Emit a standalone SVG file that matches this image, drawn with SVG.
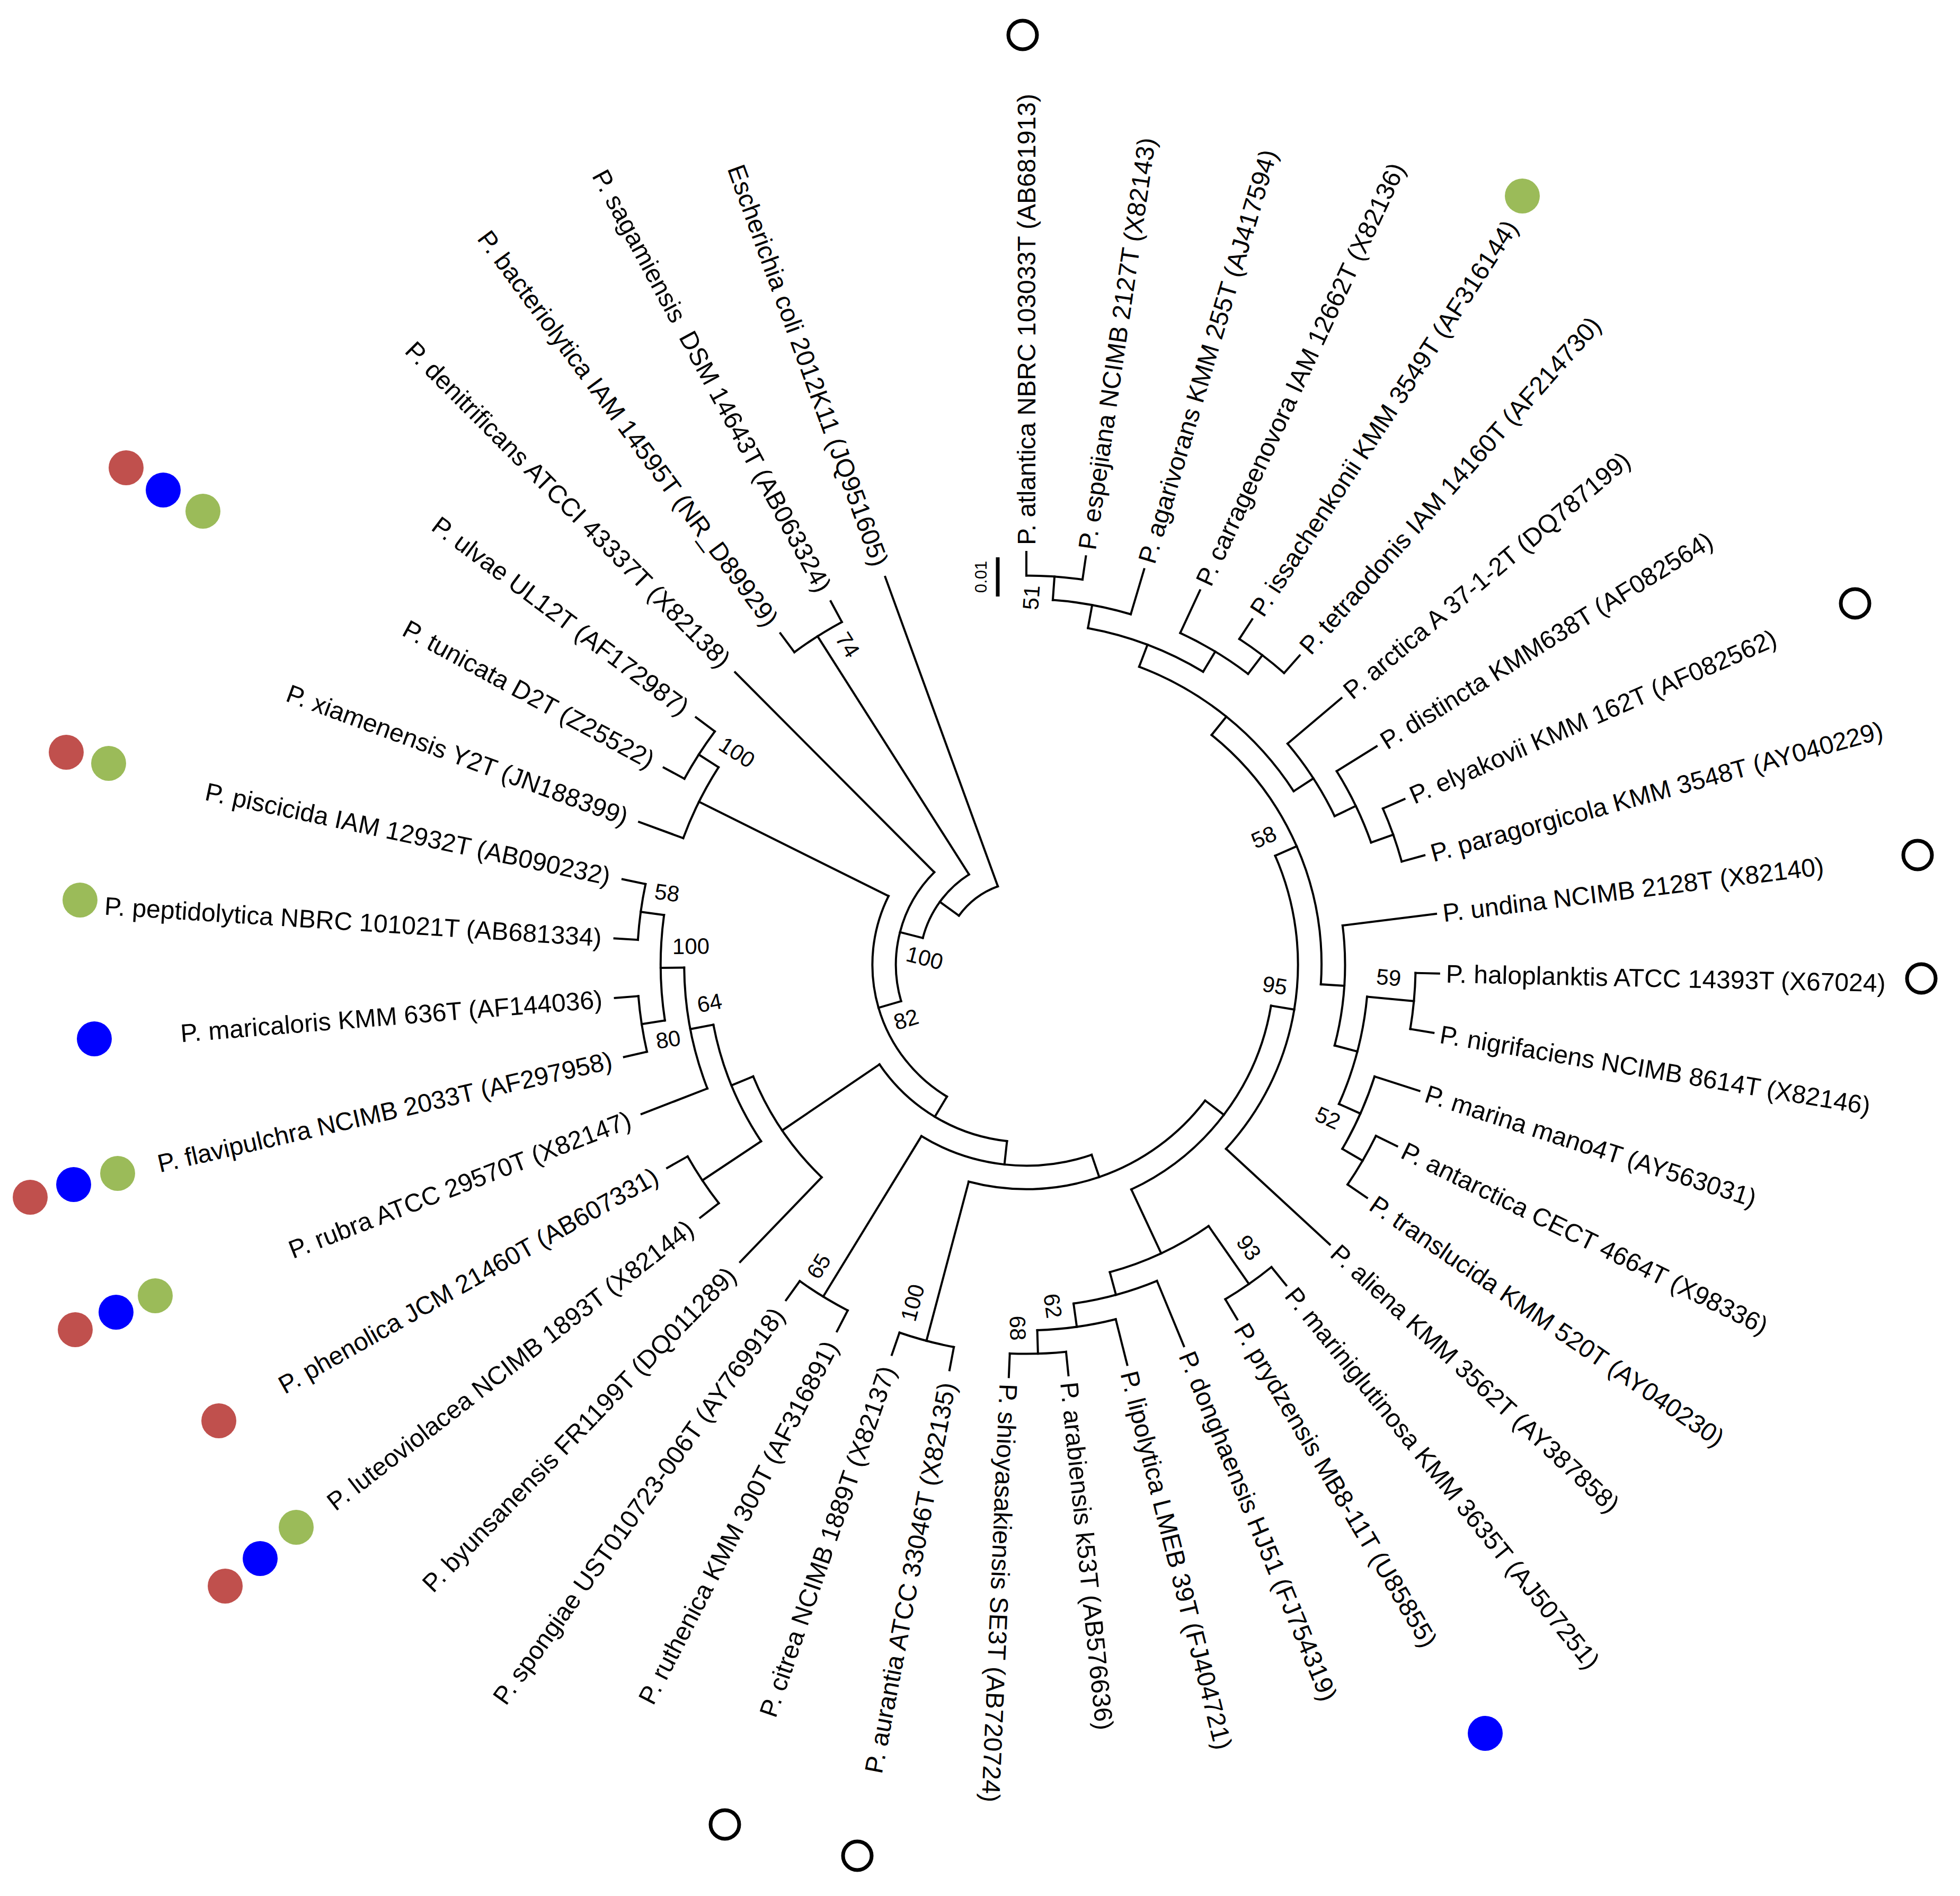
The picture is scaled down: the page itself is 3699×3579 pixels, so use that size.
<svg xmlns="http://www.w3.org/2000/svg" width="3699" height="3579" viewBox="0 0 3699 3579">
<style>
.t{font-family:"Liberation Sans",Arial,sans-serif;font-size:48px;fill:#000}
.e{text-anchor:end}
.b{font-family:"Liberation Sans",Arial,sans-serif;font-size:42px;fill:#000;text-anchor:middle}
.tree{fill:none;stroke:#000;stroke-width:4;stroke-linecap:square}
.r{fill:#C0504D}.bl{fill:#0000FF}.g{fill:#9BBB59}
.o{fill:#fff;stroke:#000;stroke-width:7}
</style>
<rect width="3699" height="3579" fill="#fff"/>
<g id="connectors" class="tree" transform="translate(1937,1821)">
<circle r="157.4" stroke-dasharray="93.40 9999" transform="rotate(216)"/>
<circle r="201.8" stroke-dasharray="151.88 9999" transform="rotate(194.438)"/>
<circle r="246.2" stroke-dasharray="263.70 9999" transform="rotate(163.753)"/>
<circle r="290.6" stroke-dasharray="433.25 9999" transform="rotate(121.043)"/>
<circle r="335" stroke-dasharray="289.78 9999" transform="rotate(96.262)"/>
<circle r="379.4" stroke-dasharray="333.76 9999" transform="rotate(71.06)"/>
<circle r="423.8" stroke-dasharray="500.29 9999" transform="rotate(37.241)"/>
<circle r="468.2" stroke-dasharray="453.18 9999" transform="rotate(9.512)"/>
<circle r="512.6" stroke-dasharray="593.53 9999" transform="rotate(-23.659)"/>
<circle r="557" stroke-dasharray="534.09 9999" transform="rotate(-51.128)"/>
<circle r="601.4" stroke-dasharray="380.81 9999" transform="rotate(-69.268)"/>
<circle r="645.8" stroke-dasharray="233.68 9999" transform="rotate(-79.634)"/>
<circle r="690.2" stroke-dasharray="149.84 9999" transform="rotate(-85.854)"/>
<circle r="734.6" stroke-dasharray="106.33 9999" transform="rotate(-90)"/>
<circle r="690.2" stroke-dasharray="149.84 9999" transform="rotate(-65.122)"/>
<circle r="734.6" stroke-dasharray="106.32 9999" transform="rotate(-56.829)"/>
<circle r="645.8" stroke-dasharray="163.57 9999" transform="rotate(-40.244)"/>
<circle r="690.2" stroke-dasharray="149.84 9999" transform="rotate(-31.951)"/>
<circle r="734.6" stroke-dasharray="106.33 9999" transform="rotate(-23.659)"/>
<circle r="601.4" stroke-dasharray="228.48 9999" transform="rotate(-7.073)"/>
<circle r="645.8" stroke-dasharray="210.30 9999" transform="rotate(5.366)"/>
<circle r="734.6" stroke-dasharray="106.32 9999" transform="rotate(1.22)"/>
<circle r="690.2" stroke-dasharray="149.84 9999" transform="rotate(17.805)"/>
<circle r="734.6" stroke-dasharray="106.32 9999" transform="rotate(26.098)"/>
<circle r="601.4" stroke-dasharray="206.73 9999" transform="rotate(55.122)"/>
<circle r="734.6" stroke-dasharray="106.32 9999" transform="rotate(50.976)"/>
<circle r="645.8" stroke-dasharray="163.57 9999" transform="rotate(67.561)"/>
<circle r="690.2" stroke-dasharray="149.84 9999" transform="rotate(75.854)"/>
<circle r="734.6" stroke-dasharray="106.33 9999" transform="rotate(84.146)"/>
<circle r="734.6" stroke-dasharray="106.32 9999" transform="rotate(100.732)"/>
<circle r="734.6" stroke-dasharray="106.33 9999" transform="rotate(117.317)"/>
<circle r="557" stroke-dasharray="231.78 9999" transform="rotate(133.902)"/>
<circle r="601.4" stroke-dasharray="239.37 9999" transform="rotate(146.341)"/>
<circle r="734.6" stroke-dasharray="106.33 9999" transform="rotate(142.195)"/>
<circle r="645.8" stroke-dasharray="233.68 9999" transform="rotate(158.78)"/>
<circle r="690.2" stroke-dasharray="199.79 9999" transform="rotate(171.22)"/>
<circle r="734.6" stroke-dasharray="106.33 9999" transform="rotate(167.073)"/>
<circle r="734.6" stroke-dasharray="106.32 9999" transform="rotate(183.659)"/>
<circle r="690.2" stroke-dasharray="149.84 9999" transform="rotate(200.244)"/>
<circle r="734.6" stroke-dasharray="106.32 9999" transform="rotate(208.537)"/>
<circle r="734.6" stroke-dasharray="106.32 9999" transform="rotate(233.415)"/>
<path d="M157.4 0H201.8" transform="rotate(216)"/>
<path d="M201.8 0H246.2" transform="rotate(194.438)"/>
<path d="M201.8 0H734.6" transform="rotate(237.561)"/>
<path d="M246.2 0H290.6" transform="rotate(163.753)"/>
<path d="M290.6 0H690.2" transform="rotate(206.463)"/>
<path d="M290.6 0H335" transform="rotate(121.043)"/>
<path d="M335 0H379.4" transform="rotate(96.262)"/>
<path d="M335 0H557" transform="rotate(145.823)"/>
<path d="M379.4 0H423.8" transform="rotate(71.06)"/>
<path d="M379.4 0H734.6" transform="rotate(121.463)"/>
<path d="M423.8 0H468.2" transform="rotate(37.241)"/>
<path d="M423.8 0H734.6" transform="rotate(104.878)"/>
<path d="M468.2 0H512.6" transform="rotate(9.512)"/>
<path d="M468.2 0H601.4" transform="rotate(64.97)"/>
<path d="M512.6 0H557" transform="rotate(-23.659)"/>
<path d="M557 0H601.4" transform="rotate(-51.128)"/>
<path d="M557 0H601.4" transform="rotate(3.811)"/>
<path d="M601.4 0H645.8" transform="rotate(-69.268)"/>
<path d="M601.4 0H645.8" transform="rotate(-32.988)"/>
<path d="M645.8 0H690.2" transform="rotate(-79.634)"/>
<path d="M645.8 0H690.2" transform="rotate(-58.902)"/>
<path d="M690.2 0H734.6" transform="rotate(-85.854)"/>
<path d="M690.2 0H734.6" transform="rotate(-52.683)"/>
<path d="M645.8 0H690.2" transform="rotate(-25.732)"/>
<path d="M690.2 0H734.6" transform="rotate(-19.512)"/>
<path d="M601.4 0H645.8" transform="rotate(14.695)"/>
<path d="M645.8 0H734.6" transform="rotate(5.366)"/>
<path d="M645.8 0H690.2" transform="rotate(24.024)"/>
<path d="M690.2 0H734.6" transform="rotate(30.244)"/>
<path d="M601.4 0H734.6" transform="rotate(55.122)"/>
<path d="M601.4 0H645.8" transform="rotate(74.817)"/>
<path d="M645.8 0H690.2" transform="rotate(82.073)"/>
<path d="M690.2 0H734.6" transform="rotate(88.293)"/>
<path d="M557 0H601.4" transform="rotate(157.744)"/>
<path d="M601.4 0H734.6" transform="rotate(146.341)"/>
<path d="M601.4 0H645.8" transform="rotate(169.146)"/>
<path d="M645.8 0H690.2" transform="rotate(179.512)"/>
<path d="M690.2 0H734.6" transform="rotate(171.22)"/>
<path d="M690.2 0H734.6" transform="rotate(187.805)"/>
<path d="M690.2 0H734.6" transform="rotate(212.683)"/>
<path d="M734.6 0H779" transform="rotate(-90)"/>
<path d="M734.6 0H779" transform="rotate(-81.707)"/>
<path d="M690.2 0H779" transform="rotate(-73.415)"/>
<path d="M690.2 0H779" transform="rotate(-65.122)"/>
<path d="M734.6 0H779" transform="rotate(-56.829)"/>
<path d="M734.6 0H779" transform="rotate(-48.537)"/>
<path d="M645.8 0H779" transform="rotate(-40.244)"/>
<path d="M690.2 0H779" transform="rotate(-31.951)"/>
<path d="M734.6 0H779" transform="rotate(-23.659)"/>
<path d="M734.6 0H779" transform="rotate(-15.366)"/>
<path d="M601.4 0H779" transform="rotate(-7.073)"/>
<path d="M734.6 0H779" transform="rotate(1.22)"/>
<path d="M734.6 0H779" transform="rotate(9.512)"/>
<path d="M690.2 0H779" transform="rotate(17.805)"/>
<path d="M734.6 0H779" transform="rotate(26.098)"/>
<path d="M734.6 0H779" transform="rotate(34.39)"/>
<path d="M512.6 0H779" transform="rotate(42.683)"/>
<path d="M734.6 0H779" transform="rotate(50.976)"/>
<path d="M734.6 0H779" transform="rotate(59.268)"/>
<path d="M645.8 0H779" transform="rotate(67.561)"/>
<path d="M690.2 0H779" transform="rotate(75.854)"/>
<path d="M734.6 0H779" transform="rotate(84.146)"/>
<path d="M734.6 0H779" transform="rotate(92.439)"/>
<path d="M734.6 0H779" transform="rotate(100.732)"/>
<path d="M734.6 0H779" transform="rotate(109.024)"/>
<path d="M734.6 0H779" transform="rotate(117.317)"/>
<path d="M734.6 0H779" transform="rotate(125.61)"/>
<path d="M557 0H779" transform="rotate(133.902)"/>
<path d="M734.6 0H779" transform="rotate(142.195)"/>
<path d="M734.6 0H779" transform="rotate(150.488)"/>
<path d="M645.8 0H779" transform="rotate(158.78)"/>
<path d="M734.6 0H779" transform="rotate(167.073)"/>
<path d="M734.6 0H779" transform="rotate(175.366)"/>
<path d="M734.6 0H779" transform="rotate(183.659)"/>
<path d="M734.6 0H779" transform="rotate(191.951)"/>
<path d="M690.2 0H779" transform="rotate(200.244)"/>
<path d="M734.6 0H779" transform="rotate(208.537)"/>
<path d="M734.6 0H779" transform="rotate(216.829)"/>
<path d="M246.2 0H779" transform="rotate(225.122)"/>
<path d="M734.6 0H779" transform="rotate(233.415)"/>
<path d="M734.6 0H779" transform="rotate(241.707)"/>
<path d="M157.4 0H779" transform="rotate(250)"/>
</g>
<g id="leaves">
<g id="n00" transform="translate(1937,1821) rotate(-90)"><text class="t" x="792" dy=".35em">P. atlantica NBRC 103033T (AB681913)</text></g>
<g id="n01" transform="translate(1937,1821) rotate(-81.707)"><text class="t" x="792" dy=".35em">P. espejiana NCIMB 2127T (X82143)</text></g>
<g id="n02" transform="translate(1937,1821) rotate(-73.415)"><text class="t" x="792" dy=".35em">P. agarivorans KMM 255T (AJ417594)</text></g>
<g id="n03" transform="translate(1937,1821) rotate(-65.122)"><text class="t" x="792" dy=".35em">P. carrageenovora IAM 12662T (X82136)</text></g>
<g id="n04" transform="translate(1937,1821) rotate(-56.829)"><text class="t" x="792" dy=".35em">P. issachenkonii KMM 3549T (AF316144)</text></g>
<g id="n05" transform="translate(1937,1821) rotate(-48.537)"><text class="t" x="792" dy=".35em">P. tetraodonis IAM 14160T (AF214730)</text></g>
<g id="n06" transform="translate(1937,1821) rotate(-40.244)"><text class="t" x="792" dy=".35em">P. arctica A 37-1-2T (DQ787199)</text></g>
<g id="n07" transform="translate(1937,1821) rotate(-31.951)"><text class="t" x="792" dy=".35em">P. distincta KMM638T (AF082564)</text></g>
<g id="n08" transform="translate(1937,1821) rotate(-23.659)"><text class="t" x="792" dy=".35em">P. elyakovii KMM 162T (AF082562)</text></g>
<g id="n09" transform="translate(1937,1821) rotate(-15.366)"><text class="t" x="792" dy=".35em">P. paragorgicola KMM 3548T (AY040229)</text></g>
<g id="n10" transform="translate(1937,1821) rotate(-7.073)"><text class="t" x="792" dy=".35em">P. undina NCIMB 2128T (X82140)</text></g>
<g id="n11" transform="translate(1937,1821) rotate(1.22)"><text class="t" x="792" dy=".35em">P. haloplanktis ATCC 14393T (X67024)</text></g>
<g id="n12" transform="translate(1937,1821) rotate(9.512)"><text class="t" x="792" dy=".35em">P. nigrifaciens NCIMB 8614T (X82146)</text></g>
<g id="n13" transform="translate(1937,1821) rotate(17.805)"><text class="t" x="792" dy=".35em">P. marina mano4T (AY563031)</text></g>
<g id="n14" transform="translate(1937,1821) rotate(26.098)"><text class="t" x="792" dy=".35em">P. antarctica CECT 4664T (X98336)</text></g>
<g id="n15" transform="translate(1937,1821) rotate(34.39)"><text class="t" x="792" dy=".35em">P. translucida KMM 520T (AY040230)</text></g>
<g id="n16" transform="translate(1937,1821) rotate(42.683)"><text class="t" x="792" dy=".35em">P. aliena KMM 3562T (AY387858)</text></g>
<g id="n17" transform="translate(1937,1821) rotate(50.976)"><text class="t" x="792" dy=".35em">P. mariniglutinosa KMM 3635T (AJ507251)</text></g>
<g id="n18" transform="translate(1937,1821) rotate(59.268)"><text class="t" x="792" dy=".35em">P. prydzensis MB8-11T (U85855)</text></g>
<g id="n19" transform="translate(1937,1821) rotate(67.561)"><text class="t" x="792" dy=".35em">P. donghaensis HJ51 (FJ754319)</text></g>
<g id="n20" transform="translate(1937,1821) rotate(75.854)"><text class="t" x="792" dy=".35em">P. lipolytica LMEB 39T (FJ404721)</text></g>
<g id="n21" transform="translate(1937,1821) rotate(84.146)"><text class="t" x="792" dy=".35em">P. arabiensis k53T (AB576636)</text></g>
<g id="n22" transform="translate(1937,1821) rotate(92.439)"><text class="t" x="792" dy=".35em">P. shioyasakiensis SE3T (AB720724)</text></g>
<g id="n23" transform="translate(1937,1821) rotate(-79.268)"><text class="t e" x="-803" dy=".35em">P. aurantia ATCC 33046T (X82135)</text></g>
<g id="n24" transform="translate(1937,1821) rotate(-70.976)"><text class="t e" x="-803" dy=".35em">P. citrea NCIMB 1889T (X82137)</text></g>
<g id="n25" transform="translate(1937,1821) rotate(-62.683)"><text class="t e" x="-803" dy=".35em">P. ruthenica KMM 300T (AF316891)</text></g>
<g id="n26" transform="translate(1937,1821) rotate(-54.39)"><text class="t e" x="-803" dy=".35em">P. spongiae UST010723-006T (AY769918)</text></g>
<g id="n27" transform="translate(1937,1821) rotate(-46.098)"><text class="t e" x="-803" dy=".35em">P. byunsanensis FR1199T (DQ011289)</text></g>
<g id="n28" transform="translate(1937,1821) rotate(-37.805)"><text class="t e" x="-803" dy=".35em">P. luteoviolacea NCIMB 1893T (X82144)</text></g>
<g id="n29" transform="translate(1937,1821) rotate(-29.512)"><text class="t e" x="-803" dy=".35em">P. phenolica JCM 21460T (AB607331)</text></g>
<g id="n30" transform="translate(1937,1821) rotate(-21.22)"><text class="t e" x="-803" dy=".35em">P. rubra ATCC 29570T (X82147)</text></g>
<g id="n31" transform="translate(1937,1821) rotate(-12.927)"><text class="t e" x="-803" dy=".35em">P. flavipulchra NCIMB 2033T (AF297958)</text></g>
<g id="n32" transform="translate(1937,1821) rotate(-4.634)"><text class="t e" x="-803" dy=".35em">P. maricaloris KMM 636T (AF144036)</text></g>
<g id="n33" transform="translate(1937,1821) rotate(3.659)"><text class="t e" x="-803" dy=".35em">P. peptidolytica NBRC 101021T (AB681334)</text></g>
<g id="n34" transform="translate(1937,1821) rotate(11.951)"><text class="t e" x="-803" dy=".35em">P. piscicida IAM 12932T (AB090232)</text></g>
<g id="n35" transform="translate(1937,1821) rotate(20.244)"><text class="t e" x="-803" dy=".35em">P. xiamenensis Y2T (JN188399)</text></g>
<g id="n36" transform="translate(1937,1821) rotate(28.537)"><text class="t e" x="-803" dy=".35em">P. tunicata D2T (Z25522)</text></g>
<g id="n37" transform="translate(1937,1821) rotate(36.829)"><text class="t e" x="-803" dy=".35em">P. ulvae UL12T (AF172987)</text></g>
<g id="n38" transform="translate(1937,1821) rotate(45.122)"><text class="t e" x="-803" dy=".35em">P. denitrificans ATCCI 43337T (X82138)</text></g>
<g id="n39" transform="translate(1937,1821) rotate(53.415)"><text class="t e" x="-803" dy=".35em">P. bacteriolytica IAM 14595T (NR_D89929)</text></g>
<g id="n40" transform="translate(1937,1821) rotate(61.707)"><text class="t e" x="-803" dy=".35em">P. sagamiensis&#160; DSM 14643T (AB063324)</text></g>
<g id="n41" transform="translate(1937,1821) rotate(70)"><text class="t e" x="-803" dy=".35em">Escherichia coli 2012K11 (JQ951605)</text></g>
</g>
<g id="bootstrap">
<text class="b" x="1946" y="1128" dy=".35em" transform="rotate(-85.9 1946 1128)">51</text>
<text class="b" x="1600" y="1217" dy=".35em" transform="rotate(57.56 1600 1217)">74</text>
<text class="b" x="1391" y="1420" dy=".35em" transform="rotate(32.68 1391 1420)">100</text>
<text class="b" x="1745" y="1808" dy=".35em" transform="rotate(14.44 1745 1808)">100</text>
<text class="b" x="1710" y="1924" dy=".35em" transform="rotate(-16.25 1710 1924)">82</text>
<text class="b" x="2385" y="1580" dy=".35em" transform="rotate(-23.66 2385 1580)">58</text>
<text class="b" x="2406" y="1860" dy=".35em" transform="rotate(9.51 2406 1860)">95</text>
<text class="b" x="2621" y="1845" dy=".35em" transform="rotate(5.37 2621 1845)">59</text>
<text class="b" x="2506" y="2110" dy=".35em" transform="rotate(24.02 2506 2110)">52</text>
<text class="b" x="2357" y="2355" dy=".35em" transform="rotate(55.12 2357 2355)">93</text>
<text class="b" x="1987" y="2465" dy=".35em" transform="rotate(82.07 1987 2465)">62</text>
<text class="b" x="1921" y="2507" dy=".35em" transform="rotate(88.29 1921 2507)">68</text>
<text class="b" x="1722" y="2459" dy=".35em" transform="rotate(-75.12 1722 2459)">100</text>
<text class="b" x="1545" y="2390" dy=".35em" transform="rotate(-58.54 1545 2390)">65</text>
<text class="b" x="1339" y="1893" dy=".35em" transform="rotate(-10.85 1339 1893)">64</text>
<text class="b" x="1261" y="1962" dy=".35em" transform="rotate(-8.78 1261 1962)">80</text>
<text class="b" x="1304" y="1786" dy=".35em" transform="rotate(-0.49 1304 1786)">100</text>
<text class="b" x="1259" y="1685" dy=".35em" transform="rotate(7.8 1259 1685)">58</text>
</g>
<g id="scale">
<line x1="1883" y1="1052" x2="1883" y2="1126" stroke="#000" stroke-width="7"/>
<text x="1851" y="1089" text-anchor="middle" dy=".35em" font-family="Liberation Sans, Arial, sans-serif" font-size="31" transform="rotate(-90 1851 1089)">0.01</text>
</g>
<g id="marks">
<circle class="o" cx="1930" cy="66" r="27"/>
<circle class="o" cx="3501" cy="1139" r="27"/>
<circle class="o" cx="3619" cy="1614" r="27"/>
<circle class="o" cx="3626" cy="1847" r="27"/>
<circle class="o" cx="1368" cy="3444" r="27"/>
<circle class="o" cx="1618" cy="3503" r="27"/>
<circle class="r" cx="238" cy="883" r="33"/>
<circle class="bl" cx="308" cy="925" r="33"/>
<circle class="g" cx="383" cy="965" r="33"/>
<circle class="r" cx="125" cy="1420" r="33"/>
<circle class="g" cx="205" cy="1441" r="33"/>
<circle class="g" cx="151" cy="1699" r="33"/>
<circle class="bl" cx="178" cy="1961" r="33"/>
<circle class="r" cx="57" cy="2260" r="33"/>
<circle class="bl" cx="139" cy="2236" r="33"/>
<circle class="g" cx="222" cy="2215" r="33"/>
<circle class="r" cx="142" cy="2510" r="33"/>
<circle class="bl" cx="219" cy="2477" r="33"/>
<circle class="g" cx="293" cy="2446" r="33"/>
<circle class="r" cx="413" cy="2682" r="33"/>
<circle class="r" cx="425" cy="2994" r="33"/>
<circle class="bl" cx="491" cy="2942" r="33"/>
<circle class="g" cx="559" cy="2883" r="33"/>
<circle class="g" cx="2873" cy="370" r="33"/>
<circle class="bl" cx="2803" cy="3272" r="33"/>
</g>
</svg>
